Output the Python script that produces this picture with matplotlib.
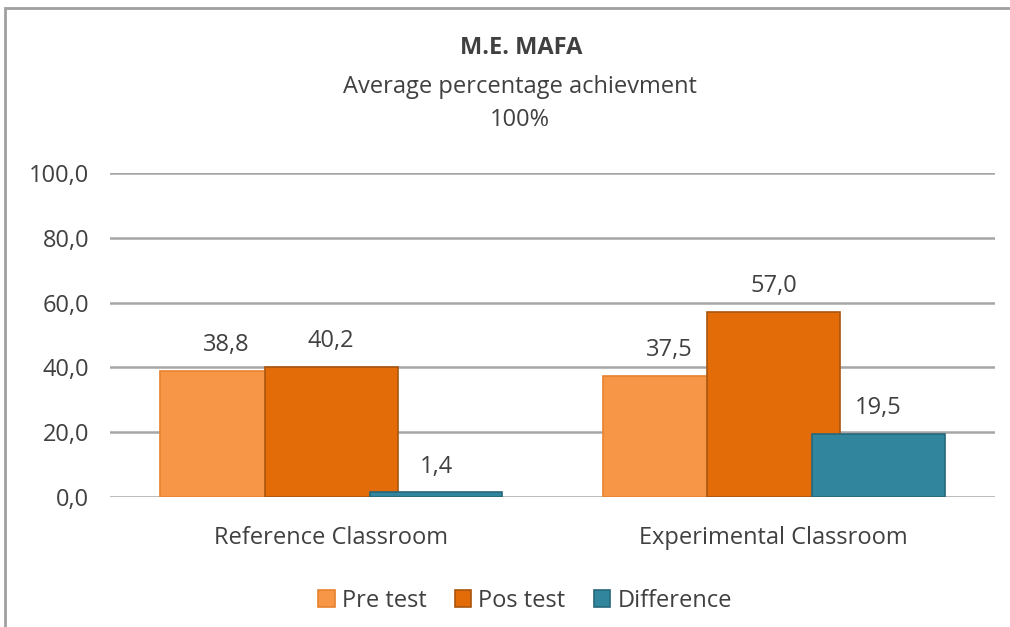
import matplotlib.pyplot as plt
import numpy as np
from matplotlib.patches import Rectangle

categories = ["Reference Classroom", "Experimental Classroom"]
series_names = ["Pre test", "Pos test", "Difference"]
pre_test = [38.8, 37.5]
pos_test = [40.2, 57.0]
difference = [1.4, 19.5]
y_ticks = [0, 20, 40, 60, 80, 100]

colors = ["#F79646", "#E36C09", "#31859C"]
edges = ["#E8822E", "#A9560F", "#25687A"]

plt.rcParams['font.family'] = ['Open Sans', 'DejaVu Sans']
txt = "#404040"

fig = plt.figure(figsize=(10.1, 6.27), dpi=100)
ax = fig.add_axes([110/1010, 130/627, 885/1010, 324/627])

x = np.arange(len(categories))
width = 0.30
step = 0.237
for i, (name, vals) in enumerate(zip(series_names, [pre_test, pos_test, difference])):
    pos = x + (i - 1) * step
    bars = ax.bar(pos, vals, width=width, color=colors[i], edgecolor=edges[i],
                  linewidth=1.2, label=name, zorder=3 + i)
    for b, v in zip(bars, vals):
        ax.annotate(('%.1f' % v).replace('.', ','),
                    (b.get_x() + b.get_width() / 2, v),
                    xytext=(0, 10), textcoords='offset points',
                    ha='center', va='bottom', fontsize=17, color=txt)

ax.set_xlim(-0.5, 1.5)
ax.set_ylim(0, 100)
ax.set_yticks(y_ticks)
ax.set_yticklabels([('%.1f' % t).replace('.', ',') for t in y_ticks],
                   fontsize=17, color=txt)
ax.set_xticks(x)
ax.set_xticklabels(categories, fontsize=17, color=txt)
ax.tick_params(axis='y', length=0, pad=15)
ax.tick_params(axis='x', length=0, pad=21)
ax.yaxis.grid(True, color="#A6A6A6", linewidth=1.8, zorder=0)
ax.set_axisbelow(True)
for s in ax.spines.values():
    s.set_visible(False)

fig.text(521/1010, 1 - 48/627, "M.E. MAFA", ha='center', va='center',
         fontsize=17, fontweight='bold', color=txt)
fig.text(520/1010, 1 - 87/627, "Average percentage achievment", ha='center',
         va='center', fontsize=17, color=txt)
fig.text(520/1010, 1 - 120/627, "100%", ha='center', va='center',
         fontsize=17, color=txt)

fig.legend(loc='center', bbox_to_anchor=(525/1010, 1 - 601/627), ncol=3,
           frameon=False, fontsize=17, handlelength=0.7, handleheight=0.7,
           handletextpad=0.3, columnspacing=1.2, labelcolor=txt)

# outer chart border
fig.patches.append(Rectangle((5/1010, -0.1), 1.2, 1 - 8/627 + 0.1,
                             transform=fig.transFigure, fill=False,
                             edgecolor="#A0A0A0", linewidth=2))

fig.savefig("out.png", dpi=100)
